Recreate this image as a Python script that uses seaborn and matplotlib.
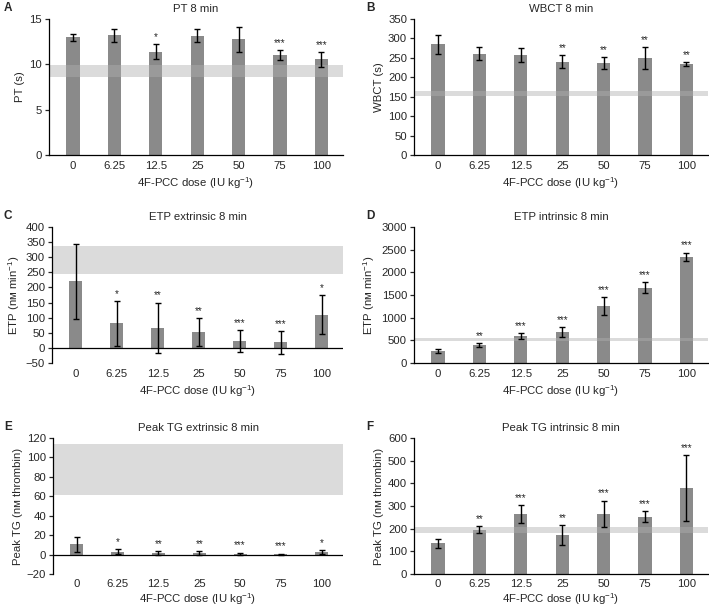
import matplotlib
matplotlib.use("Agg")
import matplotlib.pyplot as plt
import seaborn as sns
import pandas as pd
import numpy as np

doses = ["0", "6.25", "12.5", "25", "50", "75", "100"]

pt_mean = [13.0, 13.2, 11.4, 13.15, 12.75, 11.05, 10.55]
pt_sd = [0.4, 0.7, 0.8, 0.7, 1.4, 0.55, 0.8]
pt_stars = ["", "", "*", "", "", "***", "***"]
pt_band = (8.6, 9.9)

wbct_mean = [285, 261, 258, 240, 237, 249, 234]
wbct_sd = [25, 16, 18, 17, 15, 28, 6]
wbct_stars = ["", "", "", "**", "**", "**", "**"]
wbct_band = (152, 165)

etpe_mean = [220, 81, 67, 53, 22, 18, 110]
etpe_sd = [124, 74, 83, 47, 37, 38, 64]
etpe_stars = ["", "*", "**", "**", "***", "***", "*"]
etpe_band = (246, 337)

etpi_mean = [265, 392, 595, 680, 1250, 1660, 2340]
etpi_sd = [48, 50, 60, 110, 195, 125, 95]
etpi_stars = ["", "**", "***", "***", "***", "***", "***"]
etpi_band = (480, 560)

tge_mean = [10.5, 3.0, 1.5, 1.5, 0.8, 0.5, 2.5]
tge_sd = [7.5, 2.8, 2.2, 1.8, 1.3, 0.6, 2.0]
tge_stars = ["", "*", "**", "**", "***", "***", "*"]
tge_band = (61, 114)

tgi_mean = [135, 196, 265, 171, 266, 253, 379]
tgi_sd = [20, 15, 38, 44, 58, 25, 145]
tgi_stars = ["", "**", "***", "**", "***", "***", "***"]
tgi_band = (183, 209)

sns.set_style("ticks")
plt.rcParams["font.family"] = ["Liberation Sans", "DejaVu Sans"]
plt.rcParams["mathtext.default"] = "regular"
plt.rcParams["axes.edgecolor"] = "black"
plt.rcParams["axes.linewidth"] = 0.9

FS = 8.2
W, H = 709, 608
fig = plt.figure(figsize=(W / 100, H / 100), dpi=100)

xlabel = "4F-PCC dose (IU kg$^{-1}$)"

panels = [
    ("A", "PT 8 min", "PT (s)", pt_mean, pt_sd, pt_stars, pt_band, (0, 15), [0, 5, 10, 15], False, (49, 19, 294, 136)),
    ("B", "WBCT 8 min", "WBCT (s)", wbct_mean, wbct_sd, wbct_stars, wbct_band, (0, 350), list(range(0, 351, 50)), False, (414, 19, 294, 136)),
    ("C", "ETP extrinsic 8 min", "ETP (nᴍ min$^{-1}$)", etpe_mean, etpe_sd, etpe_stars, etpe_band, (-50, 400), list(range(-50, 401, 50)), True, (52, 227, 291, 136)),
    ("D", "ETP intrinsic 8 min", "ETP (nᴍ min$^{-1}$)", etpi_mean, etpi_sd, etpi_stars, etpi_band, (0, 3000), list(range(0, 3001, 500)), False, (414, 227, 294, 136)),
    ("E", "Peak TG extrinsic 8 min", "Peak TG (nᴍ thrombin)", tge_mean, tge_sd, tge_stars, tge_band, (-20, 120), list(range(-20, 121, 20)), True, (53, 438, 290, 136)),
    ("F", "Peak TG intrinsic 8 min", "Peak TG (nᴍ thrombin)", tgi_mean, tgi_sd, tgi_stars, tgi_band, (0, 600), list(range(0, 601, 100)), False, (414, 438, 294, 136)),
]

for letter, title, ylabel, mean, sd, stars, band, ylim, yticks, zero_line, (px, py, pw, ph) in panels:
    ax = fig.add_axes([px / W, 1 - (py + ph) / H, pw / W, ph / H])
    df = pd.DataFrame({"dose": doses, "value": mean})
    sns.barplot(data=df, x="dose", y="value", order=doses, color="#8a8a8a",
                saturation=1, width=0.32, errorbar=None, ax=ax, zorder=1, linewidth=0)
    xs = [p.get_x() + p.get_width() / 2 for p in ax.patches]
    ax.axhspan(band[0], band[1], color="#afafaf", alpha=0.44, lw=0, zorder=2)
    ax.errorbar(xs, mean, yerr=sd, fmt="none", ecolor="black", elinewidth=1.0,
                capsize=2.4, capthick=1.0, zorder=3)
    span = ylim[1] - ylim[0]
    for x, m, s, st in zip(xs, mean, sd, stars):
        if st:
            ax.text(x, m + s + span * 0.015, st, ha="center", va="bottom", fontsize=7, zorder=4)
    ax.set_xlim(-0.58, 6.52)
    ax.set_ylim(*ylim)
    ax.set_yticks(yticks)
    ax.set_yticklabels([str(t).replace("-", "\u2212") for t in yticks])
    bottom_row = letter in "EF"
    ax.set_xlabel(xlabel, fontsize=FS, labelpad=1.5 if bottom_row else 3)
    ax.set_ylabel(ylabel, fontsize=FS, labelpad=3)
    ax.set_title(title, fontsize=FS, pad=5)
    ax.tick_params(axis="x", length=0, pad=3.5 if bottom_row else 4.5, labelsize=FS)
    ax.tick_params(axis="y", length=3, width=0.9, pad=2, labelsize=FS)
    sns.despine(ax=ax)
    if zero_line:
        ax.spines["bottom"].set_visible(False)
        ax.axhline(0, color="black", lw=0.9, zorder=5)
    lx = 4 if letter in "ACE" else 366
    fig.text(lx / W, 1 - (py - 11) / H, letter, fontsize=8.5, fontweight="bold", ha="left", va="center")

fig.savefig("out.png", dpi=100)
